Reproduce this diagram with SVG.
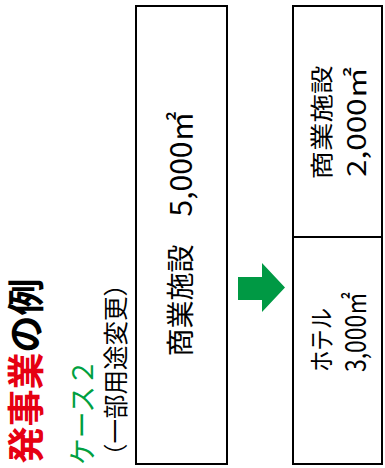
<svg xmlns="http://www.w3.org/2000/svg" width="385" height="468" viewBox="0 0 385 468">
  <style>
    text { font-family: "Noto Sans CJK JP", "Noto Sans", sans-serif; dominant-baseline: central; text-anchor: start; fill: #000; }
    .box { fill: #fff; stroke: #000; stroke-width: 2; }
    .title { font-size: 37px; font-weight: 700; }
    .red { fill: #e60012; }
    .case { font-size: 28px; fill: #00a040; }
    .sub { font-size: 24.5px; }
    .big { font-size: 28px; }
    .num { font-size: 30px; }
    .mid { font-size: 23px; }
    .midnum { font-size: 26px; }
    .hotel { font-size: 25px; }
    .hotelnum { font-size: 28px; }
    .arrow { fill: #009944; }
  </style>

  <g id="title">
    <text class="title" transform="translate(24,463.5) rotate(-90)"><tspan class="red">発事業</tspan>の例</text>
  </g>

  <g id="case-label">
    <text class="case" transform="translate(81,465) rotate(-90)" textLength="106" lengthAdjust="spacingAndGlyphs">ケース２</text>
    <text class="sub" transform="translate(114.5,468) rotate(-90)">（一部用途変更）</text>
  </g>

  <g id="before">
    <rect class="box" x="136" y="6" width="91" height="458"/>
    <text class="big" transform="translate(179,356.5) rotate(-90)">商業施設　<tspan class="num">5,000㎡</tspan></text>
  </g>

  <g id="after-commercial">
    <rect class="box" x="293" y="6" width="89" height="231"/>
    <text class="mid" transform="translate(319.5,179.5) rotate(-90)" textLength="114" lengthAdjust="spacingAndGlyphs">商業施設</text>
    <text class="midnum" transform="translate(354,177) rotate(-90)" textLength="110" lengthAdjust="spacingAndGlyphs">2,000㎡</text>
  </g>

  <g id="after-hotel">
    <rect class="box" x="293" y="237" width="89" height="227"/>
    <text class="hotel" transform="translate(320,372) rotate(-90)" textLength="64" lengthAdjust="spacingAndGlyphs">ホテル</text>
    <text class="hotelnum" transform="translate(353.5,372) rotate(-90)" textLength="80" lengthAdjust="spacingAndGlyphs">3,000㎡</text>
  </g>

  <g id="connectors">
    <polygon class="arrow" points="238,277 262,277 262,263 285,287.5 262,312 262,300 238,300"/>
  </g>
</svg>
